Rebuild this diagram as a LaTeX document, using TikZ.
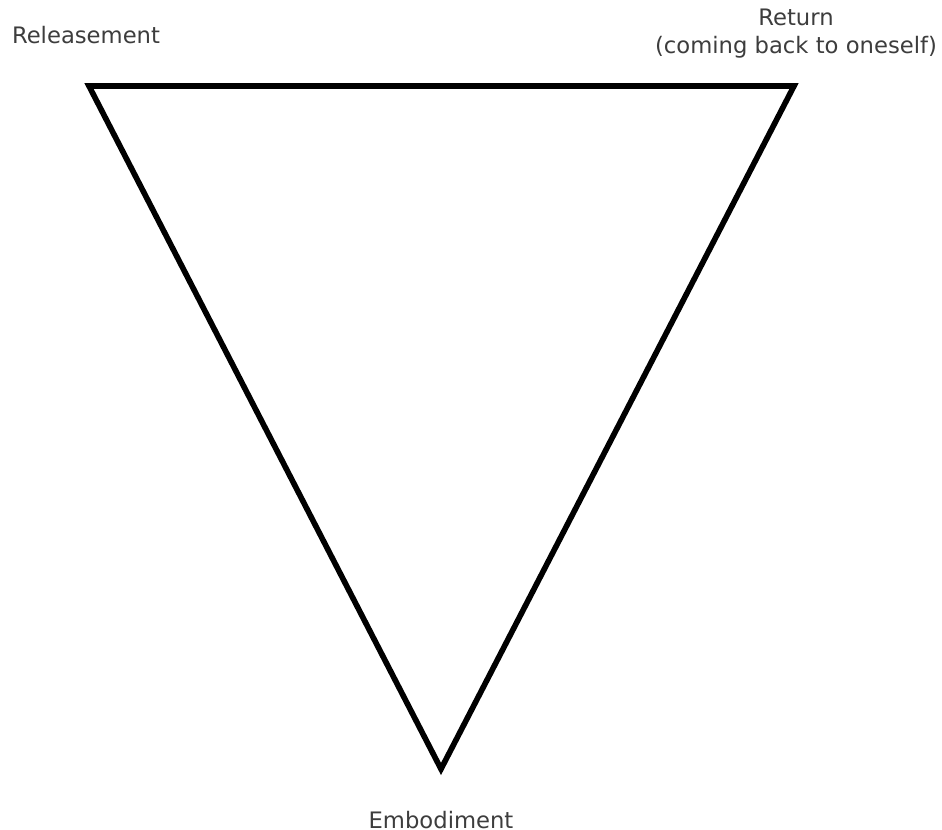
\documentclass[tikz,border=0pt]{standalone}
\usepackage{fontspec}
\setmainfont{DejaVu Sans}
\usepackage{tikz}
\usetikzlibrary{positioning}

\begin{document}
\begin{tikzpicture}[
  x=0.01cm, y=-0.01cm,
  label/.style={text=black!76, align=center, font=\fontsize{6.45}{8.0}\selectfont, inner sep=0pt},
  edge/.style={line width=1.6pt, line join=miter}
]
  \useasboundingbox (0,0) rectangle (942,830);

  \coordinate (rel) at (89,86);
  \coordinate (ret) at (794,86);
  \coordinate (emb) at (441,769);

  \draw[edge] (rel) -- (ret) -- (emb) -- cycle;

  \node[label] (relL) at (86,35) {Releasement};
  \node[label] (retL) at (796,34) {Return\\(coming back to oneself)};
  \node[label] (embL) at (441,820) {Embodiment};
\end{tikzpicture}
\end{document}
